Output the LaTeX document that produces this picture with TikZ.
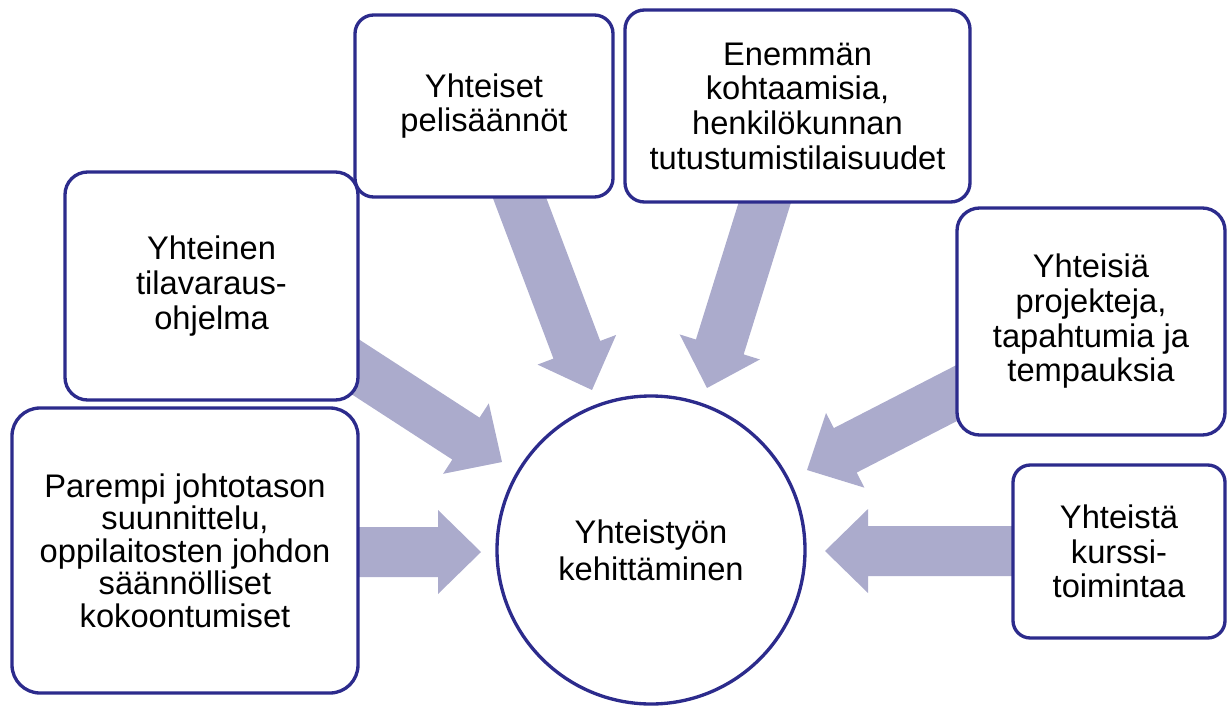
\documentclass[tikz,border=0pt]{standalone}
\usepackage{fontspec}
\setmainfont{Liberation Sans}
\usetikzlibrary{calc}
\definecolor{navy}{RGB}{44,43,140}
\definecolor{lav}{RGB}{171,171,204}
\tikzset{
  box/.style={draw=navy, line width=2.5pt, fill=white, align=center,
    inner sep=0pt, font=\fontsize{24.5}{26}\selectfont},
  hub/.style={circle, draw=navy, line width=2.5pt, fill=white, align=center,
    inner sep=0pt, minimum size=231pt, font=\fontsize{24.5}{27.5}\selectfont},
}
% wide block arrow from #1 (tail) to #2 (tip)
\newcommand\blockarrow[2]{%
  \coordinate (hb) at ($(#2)!32.25pt!(#1)$);
  \fill[lav] ($(#1)!18.75pt!90:(#2)$) -- ($(hb)!18.75pt!-90:(#1)$)
    -- ($(hb)!31.5pt!-90:(#1)$) -- (#2) -- ($(hb)!31.5pt!90:(#1)$)
    -- ($(hb)!18.75pt!90:(#1)$) -- ($(#1)!18.75pt!-90:(#2)$) -- cycle;
}
\begin{document}
\begin{tikzpicture}[x=0.75pt, y=-0.75pt]
\useasboundingbox (0,0) rectangle (1227,706);

% arrow end points
\coordinate (tA) at (330,552);  \coordinate (pA) at (481,552);
\coordinate (tC) at (334,353);  \coordinate (pC) at (502,462);
\coordinate (tD) at (509,170);  \coordinate (pD) at (592,390);
\coordinate (tE) at (774,173);  \coordinate (pE) at (707,388);
\coordinate (tF) at (984,379);  \coordinate (pF) at (807,470);
\coordinate (tB) at (1040,551); \coordinate (pB) at (825,551);

\blockarrow{tA}{pA}
\blockarrow{tC}{pC}
\blockarrow{tD}{pD}
\blockarrow{tE}{pE}
\blockarrow{tF}{pF}
\blockarrow{tB}{pB}

% centre
\node[hub] (c) at (651,550) {Yhteistyön\\kehittäminen};

% surrounding boxes
\node[box, font=\fontsize{24.5}{24.4}\selectfont, rounded corners=21pt,
  minimum width=259.5pt, minimum height=213.75pt] (b1) at (185,550.5)
  {Parempi johtotason\\suunnittelu,\\oppilaitosten johdon\\säännölliset\\kokoontumiset};
\node[box, rounded corners=17pt, minimum width=219.75pt, minimum height=171pt]
  (b2) at (211.5,286) {Yhteinen\\tilavaraus-\\ohjelma};
\node[box, rounded corners=14pt, minimum width=193.5pt, minimum height=136.5pt]
  (b3) at (484,106) {Yhteiset\\pelisäännöt};
\node[box, rounded corners=14.5pt, minimum width=258.75pt, minimum height=144pt]
  (b4) at (797.5,106) {Enemmän\\kohtaamisia,\\henkilökunnan\\tutustumistilaisuudet};
\node[box, rounded corners=17pt, minimum width=201pt, minimum height=170.25pt]
  (b5) at (1091,321.5) {Yhteisiä\\projekteja,\\tapahtumia ja\\tempauksia};
\node[box, rounded corners=13pt, minimum width=159pt, minimum height=129.75pt]
  (b6) at (1119,551.5) {Yhteistä\\kurssi-\\toimintaa};
\end{tikzpicture}
\end{document}
